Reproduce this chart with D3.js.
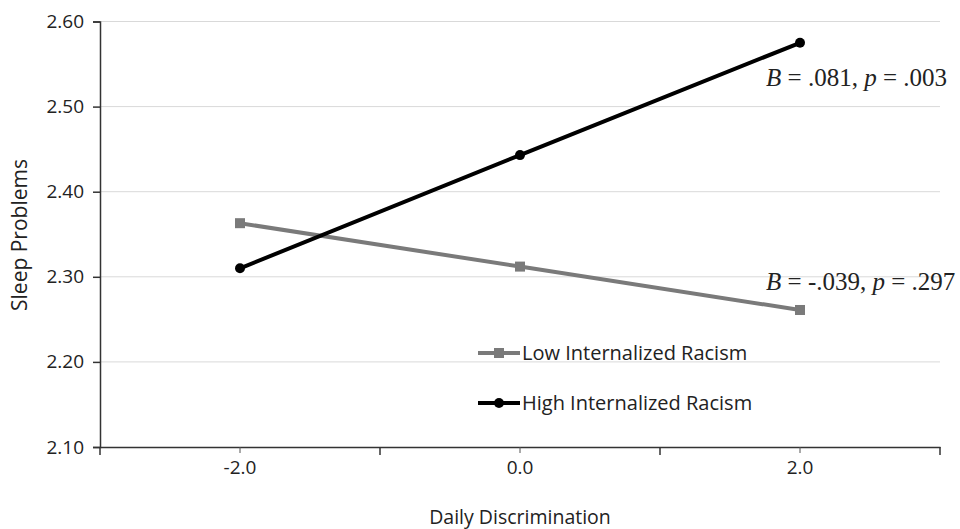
<!DOCTYPE html>
<html>
<head>
<meta charset="utf-8">
<script src="https://cdn.jsdelivr.net/npm/d3@7"></script>
<style>
  body { margin: 0; background: #fff; }
  svg { display: block; }
</style>
</head>
<body>
<div id="chart"></div>
<script>
// Simple slopes plot: sleep problems by daily discrimination
const categories = ['-2.0', '0.0', '2.0'];
const lowValues = [2.363, 2.312, 2.261];
const highValues = [2.310, 2.443, 2.575];
const yTicks = [2.10, 2.20, 2.30, 2.40, 2.50, 2.60];
const seriesNames = ['Low Internalized Racism', 'High Internalized Racism'];
const slopeNotes = [
  { B: '.081', p: '.003' },
  { B: '-.039', p: '.297' },
];

const W = 960, H = 529;
const font = '"Open Sans", "Noto Sans", sans-serif';
const serif = '"Liberation Serif", "DejaVu Serif", serif';

const svg = d3.select('#chart').append('svg')
  .attr('width', W).attr('height', H);

const x = d3.scaleBand().domain(categories).range([100, 940]);
const y = d3.scaleLinear().domain([2.10, 2.60]).range([447, 21.5]);
const cx = d => x(d) + x.bandwidth() / 2;

// gridlines
svg.append('g')
  .selectAll('line')
  .data(yTicks.slice(1))
  .join('line')
  .attr('x1', 100).attr('x2', 940)
  .attr('y1', d => y(d)).attr('y2', d => y(d))
  .attr('stroke', '#d9d9d9').attr('stroke-width', 1);

// y axis
const yAxis = svg.append('g')
  .attr('transform', 'translate(100,0)')
  .call(d3.axisLeft(y).tickValues(yTicks).tickFormat(d3.format('.2f')).tickSize(7).tickPadding(9));
yAxis.select('.domain').attr('stroke', '#333').attr('stroke-width', 1.5);
yAxis.selectAll('.tick line').attr('stroke', '#333').attr('stroke-width', 1.5);
yAxis.selectAll('text').attr('font-family', font).attr('font-size', 19).attr('fill', '#222');

// x axis
const xAxis = svg.append('g')
  .attr('transform', `translate(0,${y(2.10)})`)
  .call(d3.axisBottom(x).tickSize(0).tickPadding(14));
xAxis.select('.domain').attr('stroke', '#333').attr('stroke-width', 1.5);
xAxis.selectAll('text').attr('font-family', font).attr('font-size', 19).attr('fill', '#222');
const bounds = categories.map(c => x(c)).concat([x(categories[categories.length - 1]) + x.bandwidth()]);
xAxis.selectAll('line.bound')
  .data(bounds)
  .join('line')
  .attr('class', 'bound')
  .attr('x1', d => d).attr('x2', d => d)
  .attr('y1', 0).attr('y2', 8)
  .attr('stroke', '#333').attr('stroke-width', 1.5);
xAxis.selectAll('line.mid')
  .data(categories)
  .join('line')
  .attr('class', 'mid')
  .attr('x1', d => cx(d)).attr('x2', d => cx(d))
  .attr('y1', 0).attr('y2', 6)
  .attr('stroke', '#555').attr('stroke-width', 1);

// axis titles
svg.append('text')
  .attr('x', 520).attr('y', 524)
  .attr('text-anchor', 'middle')
  .attr('font-family', font).attr('font-size', 19.5).attr('fill', '#222')
  .text('Daily Discrimination');
svg.append('text')
  .attr('transform', 'translate(27,235) rotate(-90)')
  .attr('text-anchor', 'middle')
  .attr('font-family', font).attr('font-size', 21).attr('fill', '#222')
  .text('Sleep Problems');

const line = d3.line().x((d, i) => cx(categories[i])).y(d => y(d));

// low series
svg.append('path')
  .datum(lowValues)
  .attr('d', line)
  .attr('fill', 'none').attr('stroke', '#7a7a7a').attr('stroke-width', 4);
svg.append('g').selectAll('rect')
  .data(lowValues)
  .join('rect')
  .attr('x', (d, i) => cx(categories[i]) - 5)
  .attr('y', d => y(d) - 5)
  .attr('width', 10).attr('height', 10)
  .attr('fill', '#7a7a7a');

// high series
svg.append('path')
  .datum(highValues)
  .attr('d', line)
  .attr('fill', 'none').attr('stroke', '#000').attr('stroke-width', 4);
svg.append('g').selectAll('circle')
  .data(highValues)
  .join('circle')
  .attr('cx', (d, i) => cx(categories[i]))
  .attr('cy', d => y(d))
  .attr('r', 5)
  .attr('fill', '#000');

// slope annotations
const noteY = [highValues[2], lowValues[2]];
const noteOffsets = [43, -20];
slopeNotes.forEach((n, i) => {
  const t = svg.append('text')
    .attr('x', 766).attr('y', y(noteY[i]) + noteOffsets[i])
    .attr('font-family', serif).attr('font-size', 25).attr('fill', '#222');
  t.append('tspan').attr('font-style', 'italic').text('B');
  t.append('tspan').text(` = ${n.B}, `);
  t.append('tspan').attr('font-style', 'italic').text('p');
  t.append('tspan').text(` = ${n.p}`);
});

// legend
const legendColors = ['#7a7a7a', '#000'];
const legend = svg.append('g');
seriesNames.forEach((name, i) => {
  const ly = 353 + i * 50;
  legend.append('line')
    .attr('x1', 478).attr('x2', 520).attr('y1', ly).attr('y2', ly)
    .attr('stroke', legendColors[i]).attr('stroke-width', 4);
  if (i === 0) {
    legend.append('rect').attr('x', 494).attr('y', ly - 5).attr('width', 10).attr('height', 10).attr('fill', legendColors[i]);
  } else {
    legend.append('circle').attr('cx', 499).attr('cy', ly).attr('r', 5).attr('fill', legendColors[i]);
  }
  legend.append('text')
    .attr('x', 522).attr('y', ly + 7)
    .attr('font-family', font).attr('font-size', 20).attr('fill', '#222')
    .text(name);
});
</script>
</body>
</html>
